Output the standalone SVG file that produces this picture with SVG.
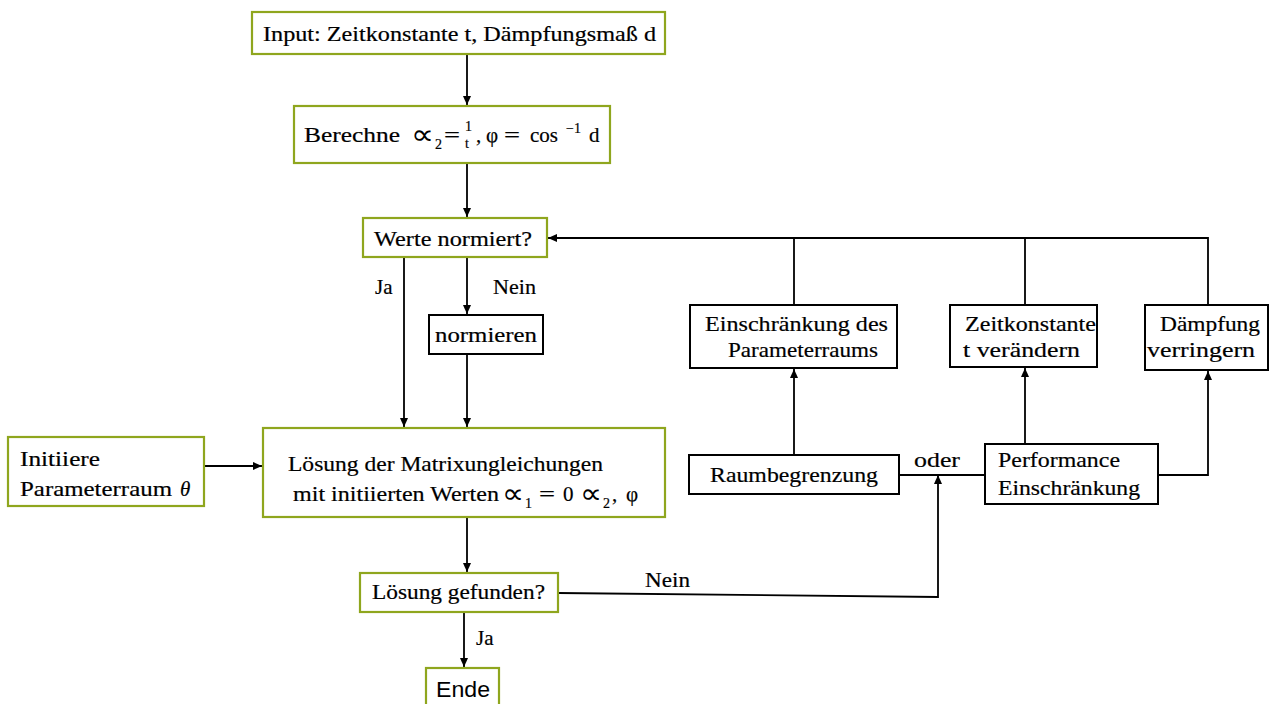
<svg xmlns="http://www.w3.org/2000/svg" width="1276" height="704" viewBox="0 0 1276 704">
<defs>
<marker id="ah" markerUnits="userSpaceOnUse" markerWidth="10" markerHeight="10" refX="9" refY="5" orient="auto">
<path d="M0,1 L9,5 L0,9 Z" fill="#000"/>
</marker>
<style>
.g{fill:#fff;stroke:#8FA61E;stroke-width:2.2}
.b{fill:#fff;stroke:#000;stroke-width:2}
.t{font-family:"Liberation Serif","DejaVu Serif",serif;font-size:21px;fill:#000;stroke:#000;stroke-width:0.2}
.m{font-family:"DejaVu Sans","Liberation Sans",sans-serif;font-size:28px;fill:#000}
.s{font-family:"Liberation Sans",Arial,sans-serif;font-size:22px;fill:#000}
.c{fill:none;stroke:#000;stroke-width:1.8}
.sm{font-size:14px}
</style>
</defs>
<rect width="1276" height="704" fill="#fff"/>

<g id="connectors">
<line class="c" x1="467" y1="54" x2="467" y2="105" marker-end="url(#ah)"/>
<line class="c" x1="467" y1="163" x2="467" y2="217" marker-end="url(#ah)"/>
<polyline class="c" points="1208,305 1208,238 548,238" marker-end="url(#ah)"/>
<line class="c" x1="794" y1="305" x2="794" y2="238"/>
<line class="c" x1="1025" y1="305" x2="1025" y2="238"/>
<line class="c" x1="404" y1="258" x2="404" y2="427" marker-end="url(#ah)"/>
<line class="c" x1="467" y1="258" x2="467" y2="314" marker-end="url(#ah)"/>
<line class="c" x1="467" y1="354" x2="467" y2="427" marker-end="url(#ah)"/>
<line class="c" x1="204" y1="466" x2="262" y2="466" marker-end="url(#ah)"/>
<line class="c" x1="467" y1="517" x2="467" y2="572" marker-end="url(#ah)"/>
<line class="c" x1="464" y1="612" x2="464" y2="667" marker-end="url(#ah)"/>
<polyline class="c" points="558,593 938,597 938,475" marker-end="url(#ah)"/>
<line class="c" x1="899" y1="475" x2="985" y2="475"/>
<line class="c" x1="794" y1="455" x2="794" y2="369" marker-end="url(#ah)"/>
<line class="c" x1="1025" y1="444" x2="1025" y2="368" marker-end="url(#ah)"/>
<polyline class="c" points="1158,475 1208,475 1208,371" marker-end="url(#ah)"/>
</g>

<g id="node-input">
<rect class="g" x="252" y="12" width="413" height="42"/>
<text class="t" x="263" y="41" textLength="393" lengthAdjust="spacingAndGlyphs">Input:  Zeitkonstante t, Dämpfungsmaß d</text>
</g>

<g id="node-berechne">
<rect class="g" x="294" y="106" width="316" height="57"/>
<text class="t" x="304" y="142" textLength="96" lengthAdjust="spacingAndGlyphs">Berechne</text>
<text class="m" x="411" y="144" textLength="23" lengthAdjust="spacingAndGlyphs">∝</text>
<text class="t sm" x="435" y="149">2</text>
<text class="t" x="444" y="142" textLength="16" lengthAdjust="spacingAndGlyphs">=</text>
<text class="t sm" x="465" y="131">1</text>
<text class="t sm" x="465" y="148">t</text>
<text class="t" x="476" y="142">,</text>
<text class="t" x="486" y="142">φ</text>
<text class="t" x="504" y="142" textLength="16" lengthAdjust="spacingAndGlyphs">=</text>
<text class="t" x="530" y="142">cos</text>
<text class="t sm" x="566" y="133">−1</text>
<text class="t" x="589" y="142">d</text>
</g>

<g id="node-werte">
<rect class="g" x="363" y="218" width="184" height="39"/>
<text class="t" x="374" y="246" textLength="158" lengthAdjust="spacingAndGlyphs">Werte normiert?</text>
</g>

<g id="labels">
<text class="t" x="375" y="294">Ja</text>
<text class="t" x="493" y="294" textLength="43" lengthAdjust="spacingAndGlyphs">Nein</text>
<text class="t" x="476" y="645">Ja</text>
<text class="t" x="645" y="587" textLength="45" lengthAdjust="spacingAndGlyphs">Nein</text>
<text class="t" x="914" y="467" textLength="46" lengthAdjust="spacingAndGlyphs">oder</text>
</g>

<g id="node-normieren">
<rect class="b" x="429" y="315" width="114" height="39"/>
<text class="t" x="435" y="342" textLength="102" lengthAdjust="spacingAndGlyphs">normieren</text>
</g>

<g id="node-initiiere">
<rect class="g" x="8" y="437" width="196" height="69"/>
<text class="t" x="20" y="466" textLength="80" lengthAdjust="spacingAndGlyphs">Initiiere</text>
<text class="t" x="20" y="496" textLength="152" lengthAdjust="spacingAndGlyphs">Parameterraum</text>
<text class="t" x="180" y="496" font-style="italic">θ</text>
</g>

<g id="node-loesung">
<rect class="g" x="263" y="428" width="402" height="89"/>
<text class="t" x="288" y="471" textLength="315" lengthAdjust="spacingAndGlyphs">Lösung der Matrixungleichungen</text>
<text class="t" x="293" y="501" textLength="206" lengthAdjust="spacingAndGlyphs">mit initiierten Werten</text>
<text class="m" x="502" y="503" textLength="22" lengthAdjust="spacingAndGlyphs">∝</text>
<text class="t sm" x="525" y="508">1</text>
<text class="t" x="539" y="501" textLength="16" lengthAdjust="spacingAndGlyphs">=</text>
<text class="t" x="563" y="501">0</text>
<text class="m" x="580" y="503" textLength="22" lengthAdjust="spacingAndGlyphs">∝</text>
<text class="t sm" x="603" y="508">2</text>
<text class="t" x="612" y="501">,</text>
<text class="t" x="626" y="501">φ</text>
</g>

<g id="node-gefunden">
<rect class="g" x="360" y="573" width="198" height="39"/>
<text class="t" x="372" y="599" textLength="173" lengthAdjust="spacingAndGlyphs">Lösung gefunden?</text>
</g>

<g id="node-ende">
<rect class="g" x="426" y="668" width="73" height="40"/>
<text class="s" x="436" y="697" textLength="54" lengthAdjust="spacingAndGlyphs">Ende</text>
</g>

<g id="node-einschraenkung">
<rect class="b" x="690" y="305" width="207" height="63"/>
<text class="t" x="705" y="331" textLength="183" lengthAdjust="spacingAndGlyphs">Einschränkung des</text>
<text class="t" x="728" y="357" textLength="150" lengthAdjust="spacingAndGlyphs">Parameterraums</text>
</g>

<g id="node-zeitkonstante">
<rect class="b" x="950" y="305" width="147" height="62"/>
<text class="t" x="965" y="331" textLength="131" lengthAdjust="spacingAndGlyphs">Zeitkonstante</text>
<text class="t" x="963" y="357" textLength="117" lengthAdjust="spacingAndGlyphs">t verändern</text>
</g>

<g id="node-daempfung">
<rect class="b" x="1145" y="305" width="123" height="65"/>
<text class="t" x="1160" y="331" textLength="100" lengthAdjust="spacingAndGlyphs">Dämpfung</text>
<text class="t" x="1147" y="357" textLength="108" lengthAdjust="spacingAndGlyphs">verringern</text>
</g>

<g id="node-raumbegrenzung">
<rect class="b" x="689" y="455" width="210" height="39"/>
<text class="t" x="710" y="482" textLength="168" lengthAdjust="spacingAndGlyphs">Raumbegrenzung</text>
</g>

<g id="node-performance">
<rect class="b" x="985" y="444" width="173" height="60"/>
<text class="t" x="998" y="467" textLength="122" lengthAdjust="spacingAndGlyphs">Performance</text>
<text class="t" x="998" y="495" textLength="142" lengthAdjust="spacingAndGlyphs">Einschränkung</text>
</g>
</svg>
